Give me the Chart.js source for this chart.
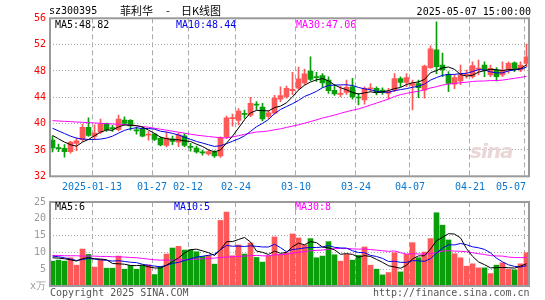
<!DOCTYPE html>
<html><head><meta charset="utf-8">
<script src="https://cdn.jsdelivr.net/npm/chart.js@4/dist/chart.umd.min.js"></script>
<style>
html,body{margin:0;padding:0;background:#fff;width:545px;height:300px;overflow:hidden;position:relative;}
.t{position:absolute;font-family:'DejaVu Sans Mono',monospace;font-size:10px;line-height:12px;white-space:pre;color:#000;}
.c{position:absolute;font-family:'Noto Sans CJK SC',sans-serif;font-size:11px;line-height:12px;white-space:pre;color:#000;}
canvas{position:absolute;left:0;}
</style></head><body>
<canvas id="pc" width="545" height="192" style="top:0;width:545px;height:192px"></canvas>
<canvas id="vc" width="545" height="108" style="top:192px;width:545px;height:108px"></canvas>
<div class="t" style="left:49px;top:5px">sz300395</div>
<div class="c" style="left:120px;top:4px">菲利华</div>
<div class="c" style="left:166px;top:4px">-</div>
<div class="c" style="left:181px;top:4px">日K线图</div>
<div class="t" style="right:14px;top:6px">2025-05-07 15:00:00</div>
<div class="t" style="left:55px;top:19px">MA5:48.82</div>
<div class="t" style="left:176px;top:19px;color:#0000ee">MA10:48.44</div>
<div class="t" style="left:296px;top:19px;color:#ff00ff">MA30:47.06</div>
<div class="t" style="left:55px;top:201px">MA5:6</div>
<div class="t" style="left:174px;top:201px;color:#0000ee">MA10:5</div>
<div class="t" style="left:295px;top:201px;color:#ff00ff">MA30:8</div>
<div class="t" style="left:50px;top:287px;color:#555">Copyright 2025 SINA.COM</div>
<div class="t" style="left:373px;top:287px;color:#555">http://finance.sina.com.cn</div>
<div style="position:absolute;left:470px;top:139px;font-family:'DejaVu Sans',sans-serif;font-weight:bold;font-style:italic;font-size:20px;color:#ead6d6;letter-spacing:-1px">sina</div>
<script>
const dates = ['01-02','01-03','01-06','01-07','01-08','01-09','01-10','01-13','01-14','01-15',
'01-16','01-17','01-20','01-21','01-22','01-23','01-24','01-27','02-05','02-06',
'02-07','02-10','02-11','02-12','02-13','02-14','02-17','02-18','02-19','02-20',
'02-21','02-24','02-25','02-26','02-27','02-28','03-03','03-04','03-05','03-06',
'03-07','03-10','03-11','03-12','03-13','03-14','03-17','03-18','03-19','03-20',
'03-21','03-24','03-25','03-26','03-27','03-28','03-31','04-01','04-02','04-03',
'04-07','04-08','04-09','04-10','04-11','04-14','04-15','04-16','04-17','04-18',
'04-21','04-22','04-23','04-24','04-25','04-28','04-29','04-30','05-06','05-07'];

const openP = [37.5,36.3,36.25,35.75,37.0,37.55,39.45,38.05,38.7,40.0,
39.35,39.1,40.55,40.5,39.0,39.2,38.25,38.4,37.75,36.7,
37.7,37.2,38.15,36.55,36.3,35.65,35.4,35.65,35.1,38.0,
40.75,40.5,41.5,41.3,42.9,42.5,41.1,41.6,43.7,44.1,
45.0,45.4,46.2,48.0,47.1,47.3,46.6,45.05,44.45,44.75,
45.6,44.0,43.6,45.3,45.35,45.1,44.6,45.1,46.85,46.25,
45.8,46.1,45.1,48.5,51.2,48.9,47.5,46.0,46.5,47.35,
47.15,48.3,48.9,47.4,48.15,47.4,48.15,49.25,48.15,49.15];
const highP = [38.1,36.9,36.8,37.3,37.8,39.95,40.9,39.8,40.7,40.1,
39.75,41.3,41.05,40.6,39.5,39.5,38.8,38.5,38.0,38.7,
38.1,38.6,38.5,37.0,36.6,36.0,36.0,35.9,38.0,41.15,
41.45,42.3,42.05,44.0,43.35,43.1,42.0,44.3,45.6,45.7,
47.8,48.6,48.3,50.15,47.8,47.6,47.1,45.9,45.7,46.6,
46.9,44.6,45.6,46.1,45.6,45.45,45.35,47.6,47.1,47.6,
46.6,46.6,48.9,51.8,55.45,50.7,47.9,47.4,48.9,48.15,
49.4,49.65,49.4,48.9,48.5,49.4,49.4,49.4,49.4,52.1];
const lowP = [35.7,35.75,34.9,35.5,35.9,37.3,38.05,37.6,38.5,38.8,
38.8,38.9,39.8,39.0,38.4,38.0,37.5,37.4,36.6,36.45,
36.8,36.5,36.5,35.8,35.5,35.2,35.2,34.85,34.85,37.75,
39.6,39.8,40.8,41.05,42.1,40.4,40.8,41.45,43.35,43.85,
44.4,45.2,45.9,46.5,46.4,45.5,44.6,44.3,44.1,44.45,
43.7,42.85,42.95,44.85,44.35,44.45,43.75,44.85,45.6,45.6,
42.1,43.95,43.85,48.4,47.6,47.15,44.85,45.3,45.9,46.9,
46.9,47.4,47.15,47.15,46.5,47.15,47.65,47.9,47.9,48.65];
const closeP = [36.3,36.2,35.75,37.2,37.4,39.45,38.2,38.55,39.9,39.1,
39.25,40.7,40.05,39.65,38.9,38.1,38.35,37.6,36.75,37.8,
37.3,38.3,36.7,36.4,35.7,35.55,35.75,35.1,37.9,40.9,
40.85,41.9,41.4,43.1,42.8,40.7,41.65,43.9,44.25,45.35,
45.2,46.8,47.55,46.7,47.0,46.2,45.0,44.5,44.55,45.5,
44.05,43.9,45.35,45.4,44.75,44.75,44.85,46.85,46.25,47.0,
46.1,45.45,48.75,51.35,48.65,48.15,46.1,47.0,47.4,47.45,
48.8,48.45,48.15,48.4,47.15,48.15,49.15,48.4,48.9,50.15];

const ma5 = [38.2,37.7,37.2,36.8,36.57,37.2,37.6,38.16,38.7,39.04,
39.0,39.5,39.8,39.75,39.71,39.48,39.01,38.52,37.94,37.72,
37.56,37.55,37.37,37.3,36.88,36.53,36.02,35.7,36.0,37.04,
38.1,39.33,40.59,41.63,42.01,41.98,41.93,42.43,42.66,43.17,
44.07,45.1,45.83,46.32,46.65,46.85,46.49,45.88,45.45,45.15,
44.72,44.5,44.67,44.84,44.69,44.83,45.02,45.32,45.49,45.94,
46.21,46.33,46.71,47.73,48.06,48.47,48.6,48.25,47.46,47.22,
47.35,47.82,48.05,48.25,48.19,48.06,48.2,48.25,48.35,48.95];
const ma10 = [39.3,38.9,38.5,38.1,37.8,37.65,37.6,37.6,37.65,37.81,
38.1,38.55,38.98,39.23,39.38,39.24,39.26,39.16,38.85,38.72,
38.52,38.28,37.95,37.62,37.3,37.05,36.79,36.54,36.65,36.96,
37.32,37.68,38.15,38.82,39.53,40.04,40.63,41.51,42.15,42.59,
43.03,43.52,44.13,44.49,44.91,45.46,45.8,45.86,45.89,45.9,
45.79,45.5,45.28,45.15,44.92,44.78,44.76,45.0,45.17,45.32,
45.52,45.68,46.02,46.61,47.0,47.34,47.47,47.48,47.6,47.64,
47.91,48.21,48.15,47.86,47.71,47.71,48.01,48.15,48.3,48.57];
const ma30 = [40.45,40.4,40.35,40.3,40.25,40.2,40.15,40.1,40.05,40.0,
39.95,39.9,39.85,39.75,39.65,39.55,39.45,39.3,39.15,39.0,
38.85,38.7,38.55,38.4,38.25,38.15,38.05,37.95,37.85,37.83,
37.98,38.17,38.36,38.55,38.73,38.78,38.89,39.07,39.21,39.42,
39.62,39.82,40.07,40.31,40.58,40.85,41.07,41.3,41.56,41.82,
42.04,42.23,42.52,42.82,43.12,43.43,43.73,44.12,44.4,44.6,
44.78,44.9,45.14,45.42,45.61,45.86,46.01,46.11,46.22,46.29,
46.41,46.46,46.48,46.54,46.54,46.61,46.75,46.88,47.02,47.18];

const volume = [7.4,7.7,7.4,8.4,6.2,11.0,9.4,5.6,7.9,5.3,
5.3,8.9,5.0,6.1,5.0,6.1,6.3,3.4,5.8,9.5,
11.3,11.8,10.7,10.8,10.2,8.8,9.1,6.5,19.5,22.0,
9.0,12.2,9.5,12.8,8.5,7.1,9.0,14.6,9.4,9.9,
15.5,14.3,12.2,14.1,8.4,8.9,13.2,9.3,7.4,9.4,
7.7,9.1,11.6,6.2,5.0,3.3,4.0,9.9,4.2,9.4,
12.9,8.4,10.1,14.1,21.8,18.1,13.7,9.6,8.4,5.9,
6.6,5.4,5.4,3.7,6.2,6.9,5.0,4.8,6.6,9.9];
const vma5 = [8.4,8.3,8.1,7.8,7.42,8.14,8.48,8.12,8.02,7.84,
6.7,6.6,6.48,6.12,6.06,6.22,5.7,5.38,5.32,6.22,
7.26,8.36,9.82,10.82,10.96,10.46,9.92,9.08,10.82,13.18,
13.22,13.84,14.44,13.1,10.4,10.02,9.38,10.4,9.72,10.0,
11.68,12.74,12.26,13.2,12.9,11.58,11.36,10.78,9.44,9.64,
9.4,8.58,9.04,8.8,7.92,7.04,6.02,5.68,5.28,6.16,
8.08,8.96,9.0,10.98,13.46,14.5,15.56,15.46,14.32,11.14,
8.84,7.18,6.34,5.4,5.46,5.52,5.44,5.32,5.9,6.64];
const vma10 = [8.9,8.7,8.4,8.0,7.6,7.9,8.2,8.0,7.8,7.63,
7.42,7.54,7.3,7.07,6.95,6.46,6.15,5.93,5.72,6.14,
6.74,7.03,7.6,8.07,8.59,8.86,9.14,9.45,10.82,12.07,
11.84,11.88,11.76,11.96,11.79,11.62,11.61,12.42,11.41,10.2,
10.85,11.06,11.33,11.46,11.45,11.63,12.05,11.52,11.32,11.27,
10.49,9.97,9.91,9.12,8.78,8.22,7.3,7.36,7.04,7.04,
7.56,7.49,7.34,8.13,9.81,11.29,12.26,12.23,12.65,12.3,
11.67,11.37,10.9,9.86,8.3,7.18,6.31,5.83,5.65,6.05];
const vma30 = [9.1,9.1,9.0,9.0,9.0,8.9,8.9,8.9,8.8,8.8,
8.7,8.7,8.6,8.5,8.4,8.2,8.0,7.8,7.7,7.7,
7.7,7.8,7.8,7.9,8.0,8.1,8.2,8.3,8.5,8.61,
8.67,8.82,8.89,9.03,9.11,8.98,8.97,9.27,9.32,9.47,
9.81,9.99,10.23,10.5,10.61,10.7,10.93,11.13,11.18,11.18,
11.06,10.97,11.0,10.85,10.67,10.49,10.32,10.43,9.92,9.5,
9.63,9.51,9.53,9.57,10.01,10.38,10.54,10.37,10.34,10.2,
9.91,9.61,9.38,9.04,8.96,8.9,8.62,8.47,8.45,8.46];

const tickDates = ['01-13','01-27','02-12','02-24','03-10','03-24','04-07','04-21','05-07'];
const tickLabels = ['2025-01-13','01-27','02-12','02-24','03-10','03-24','04-07','04-21','05-07'];
const priceTicks = [32,56,4];
const volTicks = [0,25,5];

const RED = '#ff5858', GREEN = '#0a9e0a';
const N = dates.length;
const XMIN = -2.5/6, XMAX = N - 1 + 2.5/6;
const cols = closeP.map((c,i)=> c >= openP[i] ? RED : GREEN);
const gridVals = tickDates.map(d => dates.indexOf(d) + XMIN);
const lblVals = tickLabels.map((t,k)=>{
  const half = t.length*6.02/2/6;
  return Math.min(gridVals[k], XMAX - 0.5 - half);
});
const mono = {family:"'DejaVu Sans Mono', monospace", size:10};

const frame = {id:'frame', afterDraw(c){
  const a=c.chartArea, x=c.ctx; x.save(); x.strokeStyle='#9a9a9a'; x.lineWidth=2;
  x.strokeRect(a.left, a.top, a.right-a.left, a.bottom-a.top); x.restore();
}};

function pts(arr){ return arr.map((v,i)=>({x:i,y:v})); }
function line(arr,color){ return {type:'line', data:pts(arr), borderColor:color, borderWidth:1, pointRadius:0, tension:0, order:0, xAxisID:'x', yAxisID:'y'}; }
function gridX(){ return {type:'linear', min:XMIN, max:XMAX, bounds:'data', offset:false, position:'bottom', weight:0,
  afterBuildTicks:s=>{ s.ticks = gridVals.map(v=>({value:v})); },
  ticks:{display:false}, grid:{color:'#aaaaaa', lineWidth:1, drawTicks:false, offset:false}, border:{display:false, dash:[5,3]}}; }

new Chart(document.getElementById('pc'), {
  type:'bar',
  data:{datasets:[
    line(ma5,'#000000'), line(ma10,'#0000ee'), line(ma30,'#ff00ff'),
    {type:'bar', data: highP.map((h,i)=>({x:i,y:[lowP[i],h]})), backgroundColor:cols, borderWidth:0, barThickness:1, grouped:false, order:2, xAxisID:'x', yAxisID:'y'},
    {type:'bar', data: openP.map((o,i)=>({x:i,y:[o,closeP[i]]})), backgroundColor:cols, borderWidth:0, barThickness:5, minBarLength:1, grouped:false, order:1, xAxisID:'x', yAxisID:'y'}
  ]},
  options:{
    responsive:false, animation:false, events:[],
    layout:{padding:{left:0,right:16,top:18.3,bottom:0}},
    plugins:{legend:{display:false}, tooltip:{enabled:false}},
    scales:{
      x: Object.assign(gridX(), {afterFit:s=>{s.height=0;}}),
      xl:{type:'linear', min:XMIN, max:XMAX, bounds:'data', offset:false, position:'bottom', weight:1,
        afterBuildTicks:s=>{ s.ticks = lblVals.map(v=>({value:v})); },
        afterFit:s=>{s.height=15.7;},
        ticks:{autoSkip:false, maxRotation:0, minRotation:0, padding:5, color:'#0a78d0', font:mono, callback:(v,i)=>tickLabels[i]},
        grid:{display:false, drawTicks:false, offset:false}, border:{display:false}},
      y:{type:'linear', min:priceTicks[0], max:priceTicks[1], beginAtZero:false,
        afterFit:s=>{s.width=50;},
        ticks:{stepSize:priceTicks[2], color:'#ff0000', font:mono, padding:4},
        grid:{color:'#aaaaaa', drawTicks:false}, border:{display:false, dash:[1,2]}}
    }
  },
  plugins:[frame]
});

new Chart(document.getElementById('vc'), {
  type:'bar',
  data:{datasets:[
    line(vma5,'#000000'), line(vma10,'#0000ee'), line(vma30,'#ff00ff'),
    {type:'bar', data: pts(volume), backgroundColor:cols, borderWidth:0, barThickness:5, grouped:false, order:1, xAxisID:'x', yAxisID:'y'}
  ]},
  options:{
    responsive:false, animation:false, events:[],
    layout:{padding:{left:0,right:16,top:9.7,bottom:0}},
    plugins:{legend:{display:false}, tooltip:{enabled:false}},
    scales:{
      x: Object.assign(gridX(), {afterFit:s=>{s.height=14;}}),
      y:{type:'linear', min:volTicks[0], max:volTicks[1], beginAtZero:true,
        afterFit:s=>{s.width=50;},
        ticks:{stepSize:volTicks[2], color:'#9a9a9a', font:mono, padding:4, callback:v=> v===0 ? 'x万' : String(v)},
        grid:{color:'#aaaaaa', drawTicks:false}, border:{display:false, dash:[1,2]}}
    }
  },
  plugins:[frame]
});
</script>
</body></html>
